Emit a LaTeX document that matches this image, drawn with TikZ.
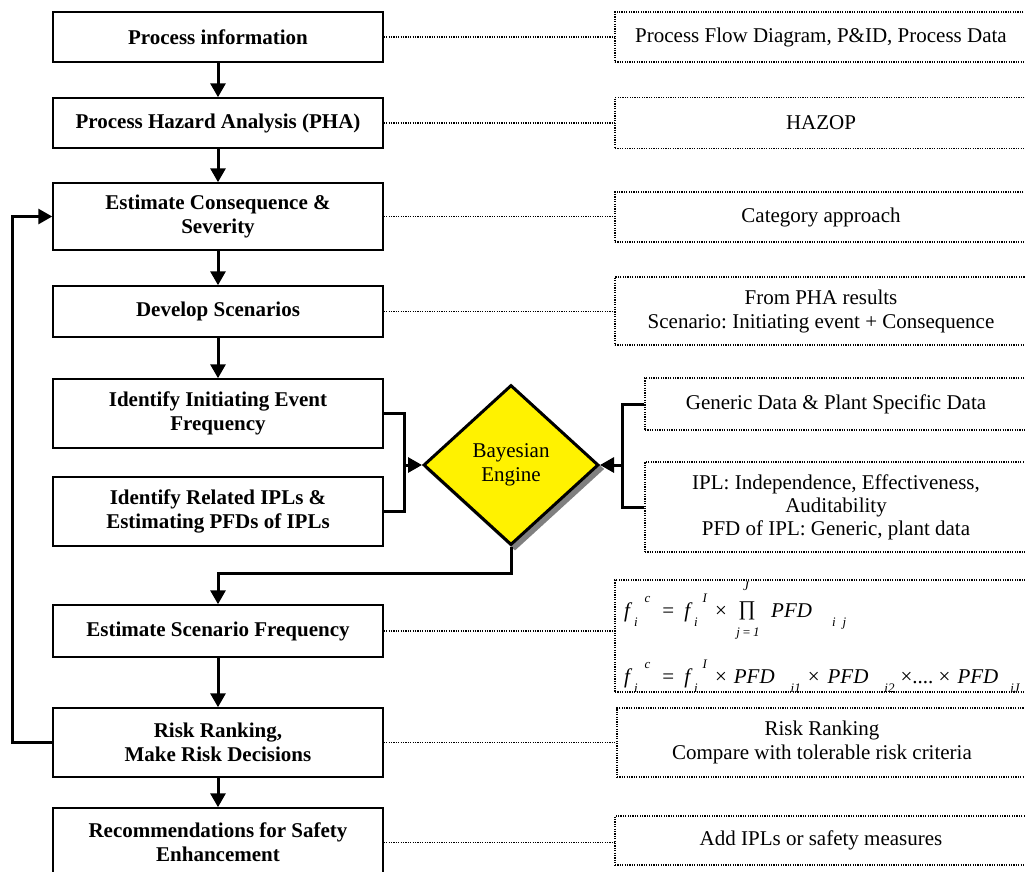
\documentclass[tikz,border=0pt]{standalone}
\usepackage{fontspec}
\setmainfont{Liberation Serif}
\usetikzlibrary{shapes.geometric,arrows.meta}
\newcommand{\lsb}[1]{\raisebox{-9pt}{\fontsize{13}{13}\selectfont\itshape #1}}
\newcommand{\lsp}[1]{\raisebox{15pt}{\fontsize{13}{13}\selectfont\itshape #1}}
\frenchspacing
\begin{document}
\begin{tikzpicture}[x=1pt,y=-1pt,
  font=\fontsize{21}{24}\selectfont,
  mainbox/.style={draw, line width=1.5pt, minimum width=330pt, align=center, inner sep=0pt, font=\fontsize{21}{24}\selectfont\bfseries},
  infobox/.style={draw, line width=1.2pt, dash pattern=on 1.2pt off 1.2pt, align=center, inner sep=0pt, minimum width=412pt},
  flow/.style={line width=3pt, -{Triangle[width=15pt,length=14pt]}},
  link/.style={line width=3pt},
  dotlink/.style={line width=1.2pt, dash pattern=on 1.2pt off 1.2pt}]
\useasboundingbox (0,0) rectangle (1025,871);

% main process boxes
\node[mainbox, minimum height=50pt] (b1) at (218,37) {Process information};
\node[mainbox, minimum height=50pt] (b2) at (218,123) {Process Hazard Analysis (PHA)};
\node[mainbox, minimum height=67pt] (b3) at (218,216.5) {Estimate Consequence \&\\Severity};
\node[mainbox, minimum height=51pt] (b4) at (218,311.5) {Develop Scenarios};
\node[mainbox, minimum height=69pt] (b5) at (218,413.5) {Identify Initiating Event\\Frequency};
\node[mainbox, minimum height=69pt] (b6) at (218,511.5) {Identify Related IPLs \&\\Estimating PFDs of IPLs};
\node[mainbox, minimum height=52pt] (b7) at (218,631) {Estimate Scenario Frequency};
\node[mainbox, minimum height=69pt] (b8) at (218,742.5) {Risk Ranking,\\Make Risk Decisions};
\node[mainbox, minimum height=69pt] (b9) at (218,842.5) {Recommendations for Safety\\Enhancement};

% info boxes
\node[infobox, minimum height=50pt] (r1) at (821,37) {Process Flow Diagram, P\&ID, Process Data};
\node[infobox, minimum height=51pt] (r2) at (821,123) {HAZOP};
\node[infobox, minimum height=50pt] (r3) at (821,217) {Category approach};
\node[infobox, minimum height=68pt] (r4) at (821,311) {From PHA results\\Scenario: Initiating event + Consequence};
\node[infobox, minimum width=382pt, minimum height=52pt] (r5) at (836,404) {Generic Data \& Plant Specific Data};
\node[infobox, minimum width=382pt, minimum height=90pt, font=\fontsize{21}{23}\selectfont] (r6) at (836,507) {IPL: Independence, Effectiveness,\\Auditability\\PFD of IPL: Generic, plant data};
\node[infobox, minimum height=112pt] (r7) at (821,636) {};
\node[infobox, minimum width=410pt, minimum height=69pt] (r8) at (822,742.5) {Risk Ranking\\Compare with tolerable risk criteria};
\node[infobox, minimum height=49pt] (r9) at (821,840.5) {Add IPLs or safety measures};

% formulas
\node[anchor=base west, inner sep=0pt] (fa) at (624,617) {\itshape f\hspace{4pt}\lsb{i}\hspace{7pt}\lsp{c}\upshape\hspace{12pt}=\hspace{10pt}\itshape f\hspace{4pt}\lsb{i}\hspace{5pt}\lsp{I}\upshape\hspace{8pt}×};
\node[inner sep=0pt] (prod) at (747,611) {∏};
\node[inner sep=0pt, font=\fontsize{13}{13}\selectfont\itshape] (pJ) at (746,586) {J};
\node[inner sep=0pt, font=\fontsize{13}{13}\selectfont\itshape] (pj) at (748,634) {j\,=\,1};
\node[anchor=base west, inner sep=0pt] (fb) at (771,617) {\itshape PFD\hspace{20pt}\lsb{i}\hspace{7pt}\lsb{j}};
\node[anchor=base west, inner sep=0pt] (fc) at (624,683) {\itshape f\hspace{4pt}\lsb{i}\hspace{7pt}\lsp{c}\upshape\hspace{12pt}=\hspace{10pt}\itshape f\hspace{4pt}\lsb{i}\hspace{5pt}\lsp{I}\upshape\hspace{8pt}×\hspace{7pt}\itshape PFD\hspace{16pt}\lsb{i1}\hspace{7pt}\upshape×\hspace{8pt}\itshape PFD\hspace{16pt}\lsb{i2}\hspace{6pt}\upshape×.... ×\hspace{7pt}\itshape PFD\hspace{12pt}\lsb{iJ}};

% Bayesian engine
\node[diamond, fill=black!50, draw=black!50, line width=3pt, minimum width=175pt, minimum height=160pt, inner sep=0pt] (shadow) at (515,469) {};
\node[diamond, draw, fill=yellow, line width=3pt, minimum width=175pt, minimum height=160pt, inner sep=0pt, align=center] (bayes) at (511,465) {Bayesian\\Engine};

% flow arrows
\draw[flow] (b1) -- (b2);
\draw[flow] (b2) -- (b3);
\draw[flow] (b3) -- (b4);
\draw[flow] (b4) -- (b5);
\draw[flow] (b7) -- (b8);
\draw[flow] (b8) -- (b9);

\coordinate (lj) at (404,465);
\draw[link] (b5.east) -| (lj) |- (b6.east);
\draw[flow] (lj) -- (bayes.west);
\coordinate (rj) at (622,465);
\draw[link] (r5.west) -| (rj) |- (r6.west);
\draw[flow] (rj) -- (bayes.east);
\coordinate (bj) at (218,573);
\draw[flow] (bayes.south) |- (bj) -- (b7.north);
\coordinate (fbk) at (12,742.5);
\draw[flow] (b8.west) -- (fbk) |- (b3.west);

% dotted links
\draw[dotlink] (b1.east) -- (b1.east -| r1.west);
\draw[dotlink] (b2.east) -- (b2.east -| r2.west);
\draw[dotlink] (b3.east) -- (b3.east -| r3.west);
\draw[dotlink] (b4.east) -- (b4.east -| r4.west);
\draw[dotlink] (b7.east) -- (b7.east -| r7.west);
\draw[dotlink] (b8.east) -- (b8.east -| r8.west);
\draw[dotlink] (b9.east) -- (b9.east -| r9.west);
\end{tikzpicture}
\end{document}
